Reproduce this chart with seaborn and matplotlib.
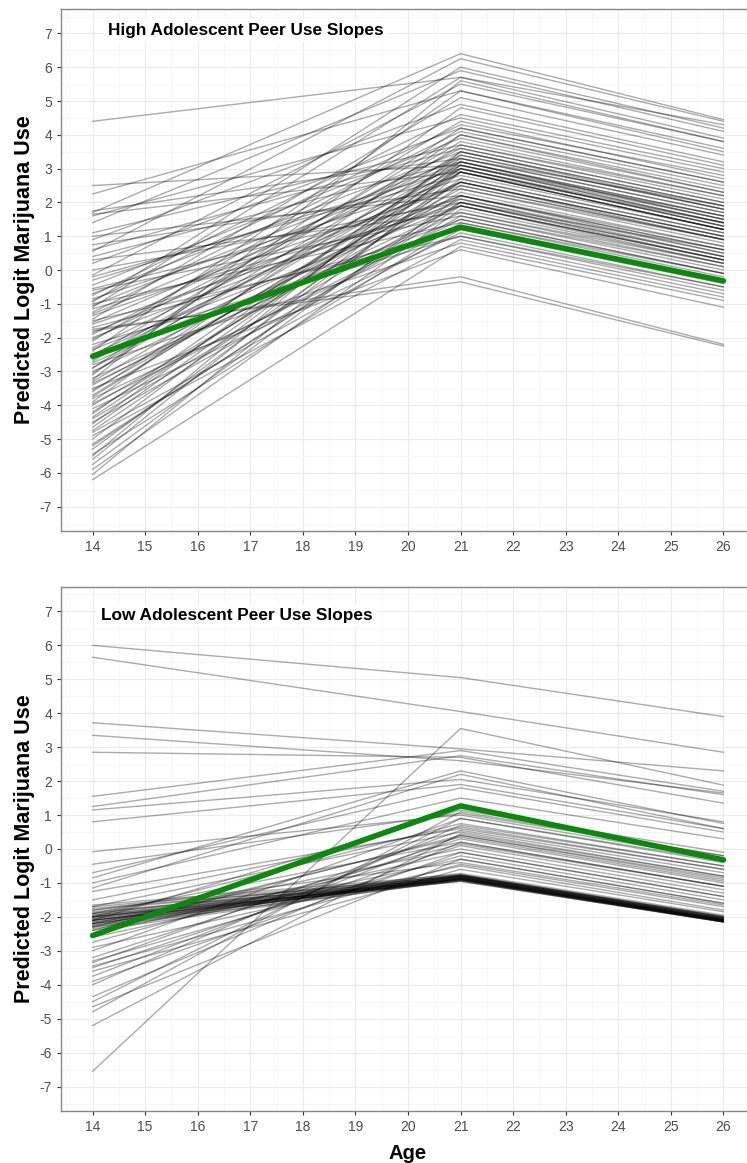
import numpy as np
import pandas as pd
import seaborn as sns
import matplotlib.pyplot as plt
from matplotlib.ticker import MultipleLocator

ages = [14, 21, 26]

# mean trajectory (same in both panels)
mean_vals = [-2.55, 1.27, -0.32]

# high adolescent peer use: predicted logit at age 14, 21 and 26
high_14 = [4.4, 2.5, 2.25, 1.75, 1.7, 1.65, 1.6, 1.4, 1.1, 0.9, 0.75, 0.55, 0.4, 0.2, 0.0,
           -0.15, -0.3, -0.45, -0.6, -0.75, -0.85, -0.95, -1.05, -1.15, -1.25, -1.35, -1.45,
           -1.55, -1.7, -1.75, -1.8, -1.9, -2.0, -2.1, -2.2, -2.3, -2.4, -2.5, -2.6, -2.7, -2.8,
           -2.9, -3.0, -3.1, -3.2, -3.3, -3.4, -3.5, -3.6, -3.7, -3.8, -3.9, -4.0, -4.1, -4.25,
           -4.4, -4.5, -4.65, -4.75, -4.9, -5.0, -5.15, -5.3, -5.45, -5.6, -5.75, -5.9, -6.05,
           -6.2, -0.2, -0.55, -1.0, -1.6, -2.05, -2.35, -2.65, -3.05, -3.35, -3.75, -4.2, -4.55,
           0.3, 1.0, -0.9, -1.3, -2.9, -4.8, -5.2, -3.55, -1.85, -0.7, -2.55, 0.6, -3.95, -1.5,
           -2.75, -4.35, -1.1, -3.25, -5.5]
high_21 = [5.7, 3.1, 5.3, 3.3, 6.4, 2.9, 4.5, 5.9, 3.7, 4.9, 2.4, 6.25, 3.2, 4.2, 2.0,
           5.5, 3.0, 3.9, 1.6, 4.6, 2.7, 6.0, 3.3, 1.9, 4.1, 2.5, 5.1,
           3.1, 1.2, -0.35, -0.2, 3.6, 2.2, 4.4, 1.0, 3.0, 5.3, 2.6, 1.5, 3.8, 0.8,
           3.2, 2.1, 4.8, 1.7, 3.1, 2.4, 0.6, 3.5, 2.9, 1.3, 4.0, 2.3, 1.1, 3.3,
           2.0, 1.6, 3.0, 2.5, 0.9, 3.2, 1.9, 2.7, 1.4, 3.1, 2.2, 1.8, 2.9,
           0.7, 2.8, 2.1, 1.4, 2.0, 3.4, 1.9, 2.9, 3.7, 1.9, 3.0, 2.6, 3.4,
           1.7, 2.2, 4.3, 3.2, 4.2, 1.2, 2.0, 2.6, 2.6, 3.5, 4.0, 3.6, 1.5, 1.0,
           2.2, 2.9, 5.7, 5.6, 3.5]
high_26 = [4.3, 1.6, 3.6, 1.9, 4.45, 1.4, 2.9, 4.1, 2.2, 3.2, 0.9, 4.4, 1.6, 2.6, 0.6,
           3.8, 1.3, 2.3, 0.1, 3.0, 1.1, 4.2, 1.7, 0.3, 2.5, 0.9, 3.4,
           1.5, -0.4, -2.25, -2.2, 2.0, 0.6, 2.7, -0.6, 1.3, 3.5, 0.9, -0.1, 2.2, -0.8,
           1.5, 0.4, 3.1, 0.1, 1.4, 0.8, -1.1, 1.8, 1.2, -0.3, 2.4, 0.7, -0.5, 1.7,
           0.3, 0.0, 1.3, 0.9, -0.7, 1.5, 0.2, 1.1, -0.2, 1.4, 0.5, 0.2, 1.2,
           -0.9, 1.2, 0.5, -0.1, 0.4, 1.8, 0.3, 1.2, 2.1, 0.3, 1.4, 1.0, 1.8,
           0.2, 0.7, 2.8, 1.6, 2.6, -0.3, 0.4, 1.0, 1.0, 1.9, 2.3, 2.0, -0.1, -0.5,
           0.6, 1.2, 3.9, 3.8, 1.9]

# low adolescent peer use
low_14 = [6.0, 5.65, 3.72, 3.35, 2.85, 1.55, 1.25, 1.15, 0.8, -0.08, -0.45, -6.55,
          -0.7, -0.85, -1.0, -1.15, -1.25,
          -1.65, -1.7, -1.75, -1.8, -1.85, -1.9, -1.95, -2.0, -2.0, -2.05, -2.1, -2.1, -2.15,
          -2.2, -2.2, -2.25, -2.3, -2.3, -2.35, -2.4, -1.9, -2.0, -2.1, -2.2, -2.05, -2.15,
          -1.95, -2.25, -2.0, -2.1,
          -1.7, -1.9, -2.0, -2.2, -2.4, -2.6, -2.75, -2.9,
          -3.2, -3.3, -3.35, -3.45, -3.5, -3.6, -3.75, -3.9, -4.0,
          -4.35, -4.5, -4.65, -4.8, -5.2,
          -1.5, -2.3, -2.5, -1.8, -2.1, -3.0]
low_21 = [5.05, 4.05, 2.95, 2.6, 2.7, 2.9, 2.75, 2.05, 1.9, 1.0, 1.05, 3.55,
          1.8, 2.3, 1.5, 2.2, 0.6,
          -0.75, -0.8, -0.85, -0.78, -0.9, -0.82, -0.88, -0.76, -0.92, -0.8, -0.85, -0.95, -0.78,
          -0.9, -0.83, -0.87, -0.93, -0.8, -0.86, -0.9, -0.72, -0.95, -0.84, -0.79, -0.88, -0.91,
          -0.77, -0.85, -0.82, -0.89,
          0.5, 0.2, 0.75, 0.0, 0.4, -0.3, 0.15, -0.5,
          0.3, -0.2, 0.55, -0.45, 0.1, -0.6, 0.4, -0.1, 0.7,
          0.2, 0.9, -0.3, 1.1, 0.45,
          0.65, 0.35, -0.1, -0.4, 1.15, 0.9]
low_26 = [3.9, 2.85, 2.3, 1.65, 1.35, 1.7, 1.6, 0.8, 0.6, -0.3, -0.2, 1.88,
          0.5, 0.75, 0.3, 0.6, -0.6,
          -2.0, -2.05, -2.1, -2.02, -2.15, -2.08, -2.12, -1.98, -2.14, -2.06, -2.1, -2.15, -2.0,
          -2.12, -2.07, -2.1, -2.15, -2.04, -2.09, -2.13, -1.95, -2.15, -2.08, -2.03, -2.1, -2.13,
          -2.0, -2.08, -2.05, -2.11,
          -0.8, -1.1, -0.5, -1.3, -0.9, -1.6, -1.1, -1.8,
          -1.0, -1.5, -0.7, -1.7, -1.2, -1.85, -0.85, -1.4, -0.5,
          -1.1, -0.35, -1.6, -0.2, -0.8,
          -0.6, -0.95, -1.4, -1.65, -0.1, -0.4]


def to_long(v14, v21, v26):
    rows = []
    for i, vals in enumerate(zip(v14, v21, v26)):
        for a, v in zip(ages, vals):
            rows.append({"id": i, "age": a, "logit": v})
    return pd.DataFrame(rows)


high_df = to_long(high_14, high_21, high_26)
low_df = to_long(low_14, low_21, low_26)
mean_df = pd.DataFrame({"age": ages, "logit": mean_vals})

sns.set_theme(style="white")
plt.rcParams["font.family"] = ["Liberation Sans", "DejaVu Sans"]
plt.rcParams["axes.unicode_minus"] = False

fig = plt.figure(figsize=(7.47, 11.63), dpi=100)
ax_top = fig.add_axes([0.0817, 0.5434, 0.929, 0.4488])
ax_bot = fig.add_axes([0.0817, 0.0447, 0.929, 0.4506])

panels = [(ax_top, high_df, "High Adolescent Peer Use Slopes", 16.91, 7.09),
          (ax_bot, low_df, "Low Adolescent Peer Use Slopes", 16.74, 6.88)]

for ax, df, title, tx, ty in panels:
    sns.lineplot(data=df, x="age", y="logit", units="id", estimator=None,
                 color="black", alpha=0.33, linewidth=1.0, ax=ax)
    sns.lineplot(data=mean_df, x="age", y="logit", color="#0A8A0A",
                 linewidth=4, ax=ax)
    ax.set_xlim(13.4, 26.6)
    ax.set_ylim(-7.72, 7.72)
    ax.xaxis.set_major_locator(MultipleLocator(1))
    ax.yaxis.set_major_locator(MultipleLocator(1))
    ax.xaxis.set_minor_locator(MultipleLocator(0.5))
    ax.yaxis.set_minor_locator(MultipleLocator(0.5))
    ax.grid(which="major", color="#EBEBEB", linewidth=0.8)
    ax.grid(which="minor", color="#F4F4F4", linewidth=0.5)
    ax.set_axisbelow(True)
    for s in ax.spines.values():
        s.set_color("#888888")
        s.set_linewidth(1.0)
    ax.tick_params(which="major", length=3, width=0.8, color="#333333",
                   labelcolor="#4D4D4D", labelsize=10, bottom=True, left=True)
    ax.tick_params(which="minor", length=0)
    ax.set_ylabel("Predicted Logit Marijuana Use", fontsize=15.5,
                  fontweight="bold", color="black", labelpad=3)
    ax.set_xlabel("")
    ax.text(tx, ty, title, ha="center", va="center", fontsize=12.4,
            fontweight="bold", color="black",
            bbox=dict(facecolor="white", edgecolor="none", pad=3))

ax_bot.set_xlabel("Age", fontsize=14.5, fontweight="bold", color="black", labelpad=7)

fig.savefig("out.png", dpi=100)
